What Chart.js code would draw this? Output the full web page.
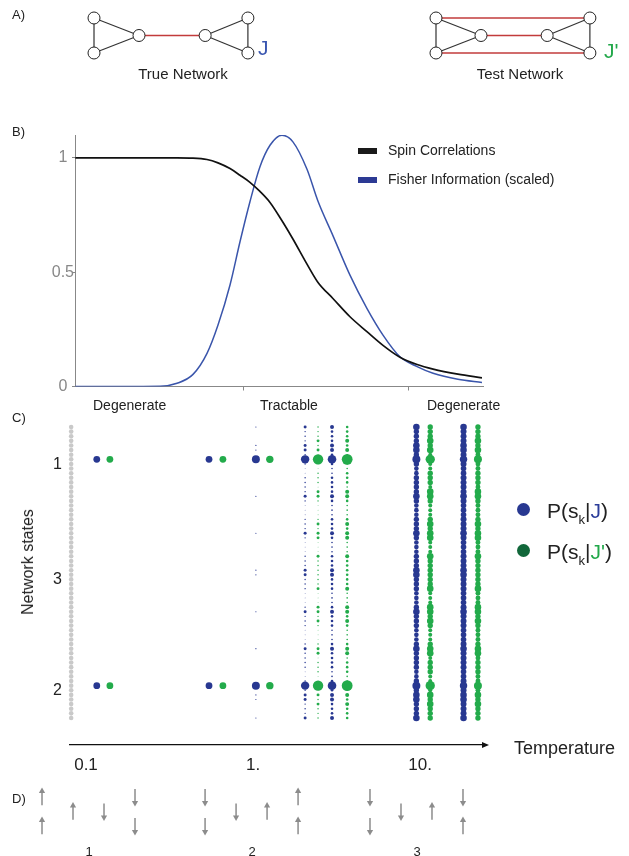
<!DOCTYPE html>
<html lang="en">
<head>
<meta charset="UTF-8" />
<title>Inferring networks across temperature</title>
<script src="https://cdn.jsdelivr.net/npm/chart.js"></script>
<style>
  body { margin: 0; background: #fff; font-family: "Liberation Sans", Arial, sans-serif; color: #222; }
  #page { position: relative; width: 629px; height: 856px; overflow: hidden; }
  canvas, .t, .dot, .sw { position: absolute; }
  .t { white-space: nowrap; line-height: 1; }
  .c { transform: translateX(-50%); }
  .dot { width: 13px; height: 13px; border-radius: 50%; }
  .sw { width: 19px; height: 6px; }
  sub { font-size: 13px; vertical-align: -6px; line-height: 0; }
</style>
</head>
<body>
<div id="page">
  <!-- A) network diagrams -->
  <canvas id="chartA" width="629" height="90" style="left:0;top:0"></canvas>
  <div class="t" style="left:12px;top:8px;font-size:13px">A)</div>
  <div class="t c" style="left:183px;top:66px;font-size:15px">True Network</div>
  <div class="t" style="left:258px;top:37px;font-size:21px;color:#3a56b0">J</div>
  <div class="t c" style="left:520px;top:66px;font-size:15px">Test Network</div>
  <div class="t" style="left:604px;top:40px;font-size:21px;color:#22a84a">J'</div>

  <!-- B) curves -->
  <canvas id="chartB" width="629" height="300" style="left:0;top:95px"></canvas>
  <div class="t" style="left:12px;top:125px;font-size:13px">B)</div>
  <div class="sw" style="left:358px;top:148px;background:#1a1a1a"></div>
  <div class="t" style="left:388px;top:143px;font-size:14px">Spin Correlations</div>
  <div class="sw" style="left:358px;top:177px;background:#2c3a94"></div>
  <div class="t" style="left:388px;top:172px;font-size:14px">Fisher Information (scaled)</div>

  <!-- C) state probabilities -->
  <canvas id="chartC" width="629" height="390" style="left:0;top:395px"></canvas>
  <div class="t" style="left:12px;top:411px;font-size:13px">C)</div>
  <div class="t" style="left:93px;top:398px;font-size:14px">Degenerate</div>
  <div class="t" style="left:260px;top:398px;font-size:14px">Tractable</div>
  <div class="t" style="left:427px;top:398px;font-size:14px">Degenerate</div>
  <div class="t" style="left:28px;top:562px;font-size:16px;transform:translate(-50%,-50%) rotate(-90deg)">Network states</div>
  <div class="dot" style="left:517px;top:503px;background:#283891"></div>
  <div class="t" style="left:547px;top:500px;font-size:21px">P(s<sub>k</sub>|<span style="color:#2b3d9a">J</span>)</div>
  <div class="dot" style="left:517px;top:544px;background:#11673a"></div>
  <div class="t" style="left:547px;top:541px;font-size:21px">P(s<sub>k</sub>|<span style="color:#22a84a">J'</span>)</div>
  <div class="t" style="left:514px;top:739px;font-size:18px">Temperature</div>

  <!-- D) spin configurations -->
  <canvas id="chartD" width="629" height="71" style="left:0;top:785px"></canvas>
  <div class="t" style="left:12px;top:792px;font-size:13px">D)</div>
  <div class="t c" style="left:89px;top:845px;font-size:13px">1</div>
  <div class="t c" style="left:252px;top:845px;font-size:13px">2</div>
  <div class="t c" style="left:417px;top:845px;font-size:13px">3</div>
</div>

<script>
  Chart.defaults.font.family = '"Liberation Sans", Arial, sans-serif';
  Chart.defaults.animation = false;
  Chart.defaults.events = [];
  Chart.defaults.plugins.legend.display = false;
  Chart.defaults.plugins.tooltip.enabled = false;

  // ---- network layout (shared by A and D) ----
  const nodeX = [0, 0, 1, 2.47, 3.42, 3.42];
  const nodeY = [1, 0, 0.5, 0.5, 1, 0];
  const triangleEdges = [[0, 1], [0, 2], [1, 2], [3, 4], [3, 5], [4, 5]];
  const trueBridges = [[2, 3]];
  const testBridges = [[2, 3], [0, 4], [1, 5]];
  const netOffsets = [0, 7.6];

  // ---- B: curves vs temperature ----
  const tempB = [0.095, 0.177, 0.31, 0.393, 0.491, 0.597, 0.696, 0.823, 0.946, 1.087, 1.25, 1.438, 1.70,
    1.98, 2.41, 2.81, 3.46, 4.39, 5.56, 6.96, 8.82, 11.2, 14.0, 19.8, 27.7];
  const spinCorr = [1, 1, 1, 1, 0.999, 0.993, 0.978, 0.953, 0.924, 0.893, 0.853, 0.805, 0.725,
    0.645, 0.535, 0.455, 0.385, 0.305, 0.24, 0.18, 0.128, 0.096, 0.076, 0.054, 0.038];
  const fisherInfo = [0, 0, 0.001, 0.014, 0.053, 0.145, 0.269, 0.444, 0.633, 0.808, 0.961, 1.055, 1.099,
    1.07, 0.95, 0.81, 0.66, 0.487, 0.342, 0.225, 0.13, 0.087, 0.058, 0.032, 0.018];
  const yTicksB = [0, 0.5, 1];
  const yTickLabelsB = ['0', '0.5', '1'];

  // ---- C: state probabilities (dot area), 64 states per column ----
  const colTempJ = [0.116, 0.545, 1.04, 2.05, 2.97, 9.5, 18.2];
  const colTempJp = [0.139, 0.66, 1.26, 2.45, 3.66, 11.5, 22.2];
  const refTemp = 0.0815;
  const refLevel = 0.147;
  // state groups as read from the columns: B = ground pair, M / S / T = decreasing weight
  const stateClassJ = [
    'M','S','S','S','M','M','S','B','S','T','T','S','S','S','S','M',
    'S','T','T','T','S','S','S','M','S','T','T','T','S','S','S','M',
    'M','S','S','S','T','T','T','S','M','S','S','S','T','T','T','S',
    'M','S','S','S','S','T','T','S','B','S','M','M','S','S','S','M'];
  const stateClassJp = [
    'S','S','S','M','S','M','T','B','T','T','S','S','S','T','M','M',
    'S','T','T','T','S','M','S','M','M','T','T','T','M','S','S','S',
    'S','S','S','M','T','T','T','M','M','S','M','S','T','T','T','S',
    'M','M','T','S','S','S','T','T','B','T','M','S','M','S','S','S'];
  const jBig    = [0.32, 0.32, 0.44, 0.49, 0.51, 0.44, 0.38];
  const jMed    = [0, 0, 0.010, 0.062, 0.11, 0.30, 0.30];
  const jSmall  = [0, 0, 0, 0.014, 0.047, 0.20, 0.25];
  const jTiny   = [0, 0, 0, 0.004, 0.018, 0.15, 0.22];
  const jpBig   = [0.32, 0.32, 0.38, 0.75, 0.81, 0.60, 0.44];
  const jpMed   = [0, 0, 0, 0.06, 0.11, 0.30, 0.30];
  const jpSmall = [0, 0, 0, 0.014, 0.047, 0.20, 0.20];
  const jpTiny  = [0, 0, 0, 0.004, 0.018, 0.11, 0.17];
  const stateTicks = [7, 32, 56];
  const stateTickLabels = ['1', '3', '2'];
  const tempTicks = [0.1, 1, 10];
  const tempTickLabels = ['0.1', '1.', '10.'];

  // ---- D: example spin configurations (+1 up, -1 down), node order as in A ----
  const spinConfigs = [
    [1, 1, 1, -1, -1, -1],
    [-1, -1, -1, 1, 1, 1],
    [-1, -1, -1, 1, -1, 1]
  ];
  const spinX = [0, 0, 1, 2, 3, 3];
  const spinOffsets = [0, 5.26, 10.58];

  const BLUE = '#283891', GREEN = '#23ab4b', GREY = '#c9c9c9';

  // ---------- A ----------
  const dsA = [];
  const nodePts = [];
  netOffsets.forEach((off, k) => {
    nodeX.forEach((x, i) => nodePts.push({ x: x + off, y: nodeY[i] }));
    const edges = [[triangleEdges, '#333', 1.2], [k === 0 ? trueBridges : testBridges, '#c23b3b', 1.4]];
    edges.forEach(([list, col, w]) => list.forEach(([a, b]) => {
      dsA.push({
        data: [{ x: nodeX[a] + off, y: nodeY[a] }, { x: nodeX[b] + off, y: nodeY[b] }],
        showLine: true, borderColor: col, borderWidth: w, pointRadius: 0, clip: false, order: 1
      });
    }));
  });
  dsA.unshift({
    data: nodePts, pointRadius: 6, pointBackgroundColor: '#fff',
    pointBorderColor: '#222', pointBorderWidth: 1, clip: false, order: 0
  });
  new Chart(document.getElementById('chartA'), {
    type: 'scatter',
    data: { datasets: dsA },
    options: {
      responsive: false,
      layout: { padding: 0, autoPadding: false },
      scales: {
        x: { display: false, min: -2.089, max: 11.889 },
        y: { display: false, min: -1.057, max: 1.514 }
      }
    }
  });

  // ---------- B ----------
  new Chart(document.getElementById('chartB'), {
    type: 'line',
    data: {
      datasets: [
        { label: 'Spin Correlations', data: tempB.map((t, i) => ({ x: t, y: spinCorr[i] })),
          borderColor: '#111', borderWidth: 1.7, pointRadius: 0, cubicInterpolationMode: 'monotone' },
        { label: 'Fisher Information (scaled)', data: tempB.map((t, i) => ({ x: t, y: fisherInfo[i] })),
          borderColor: '#3a55ab', borderWidth: 1.5, pointRadius: 0, cubicInterpolationMode: 'monotone' }
      ]
    },
    options: {
      responsive: false,
      layout: { padding: { top: 40, right: 146, left: 0, bottom: 0 } },
      scales: {
        x: {
          type: 'logarithmic', min: 0.0946, max: 28.1,
          afterBuildTicks: s => { s.ticks = [{ value: 1 }, { value: 10 }]; },
          afterFit: s => { s.height = 8.5; },
          ticks: { display: false },
          grid: { drawOnChartArea: false, tickLength: 4, color: '#888' },
          border: { color: '#888', width: 1 }
        },
        y: {
          min: 0, max: 1.1,
          afterBuildTicks: s => { s.ticks = yTicksB.map(v => ({ value: v })); },
          afterFit: s => { s.width = 75; },
          ticks: { color: '#888', font: { size: 16 }, padding: -2, crossAlign: 'center',
                   callback: (v, i) => yTickLabelsB[i] },
          grid: { drawOnChartArea: false, tickLength: 3, color: '#888' },
          border: { color: '#888', width: 1 }
        }
      }
    }
  });

  // ---------- C ----------
  const levelJ = { B: jBig, M: jMed, S: jSmall, T: jTiny };
  const levelJp = { B: jpBig, M: jpMed, S: jpSmall, T: jpTiny };
  const DOT_R = 6;
  const dotRadius = ctx => (ctx.raw ? DOT_R * Math.sqrt(ctx.raw.v) : 0);

  const dsC = [{
    data: stateClassJ.map((c, s) => ({ x: refTemp, y: s, v: refLevel })),
    pointRadius: dotRadius, pointBackgroundColor: GREY, pointBorderWidth: 0, clip: false
  }];
  colTempJ.forEach((t, k) => {
    dsC.push({
      data: stateClassJ.map((c, s) => ({ x: t, y: s, v: levelJ[c][k] })),
      pointRadius: dotRadius, pointBackgroundColor: BLUE, pointBorderWidth: 0, clip: false
    });
    dsC.push({
      data: stateClassJp.map((c, s) => ({ x: colTempJp[k], y: s, v: levelJp[c][k] })),
      pointRadius: dotRadius, pointBackgroundColor: GREEN, pointBorderWidth: 0, clip: false
    });
  });

  const axisArrow = {
    id: 'axisArrow',
    afterDraw(chart) {
      const { ctx, chartArea: { right, bottom } } = chart;
      ctx.save();
      ctx.fillStyle = '#111';
      ctx.beginPath();
      ctx.moveTo(right + 6, bottom);
      ctx.lineTo(right - 1, bottom - 3);
      ctx.lineTo(right - 1, bottom + 3);
      ctx.closePath();
      ctx.fill();
      ctx.restore();
    }
  };

  new Chart(document.getElementById('chartC'), {
    type: 'scatter',
    data: { datasets: dsC },
    plugins: [axisArrow],
    options: {
      responsive: false,
      layout: { padding: { top: 25, right: 146, left: 0, bottom: 0 } },
      scales: {
        x: {
          type: 'logarithmic', min: 0.0802, max: 23.8,
          afterBuildTicks: s => { s.ticks = tempTicks.map(v => ({ value: v })); },
          afterFit: s => { s.height = 40; },
          ticks: { color: '#222', font: { size: 17 }, padding: 10, maxRotation: 0,
                   callback: (v, i) => tempTickLabels[i] },
          grid: { display: false, drawTicks: false },
          border: { color: '#111', width: 1.2 }
        },
        y: {
          reverse: true, min: -1.515, max: 68.85,
          afterBuildTicks: s => { s.ticks = stateTicks.map(v => ({ value: v })); },
          afterFit: s => { s.width = 70; },
          ticks: { color: '#222', font: { size: 16 }, padding: 8, labelOffset: 5,
                   callback: (v, i) => stateTickLabels[i] },
          grid: { display: false, drawTicks: false },
          border: { display: false }
        }
      }
    }
  });

  // ---------- D ----------
  const dsD = [];
  spinConfigs.forEach((cfg, g) => {
    cfg.forEach((s, n) => {
      const x = spinX[n] + spinOffsets[g];
      const yc = nodeY[n];
      dsD.push({
        data: [{ x, y: yc - s * 0.28 }, { x, y: yc + s * 0.2 }],
        showLine: true, borderColor: '#8c8c8c', borderWidth: 1.5,
        pointRadius: [0, 3.6], pointStyle: 'triangle', pointRotation: s > 0 ? 0 : 180,
        pointBackgroundColor: '#8c8c8c', pointBorderWidth: 0, clip: false
      });
    });
  });
  new Chart(document.getElementById('chartD'), {
    type: 'scatter',
    data: { datasets: dsD },
    options: {
      responsive: false,
      layout: { padding: 0, autoPadding: false },
      scales: {
        x: { display: false, min: -1.355, max: 18.935 },
        y: { display: false, min: -1.034, max: 1.414 }
      }
    }
  });
</script>
</body>
</html>
